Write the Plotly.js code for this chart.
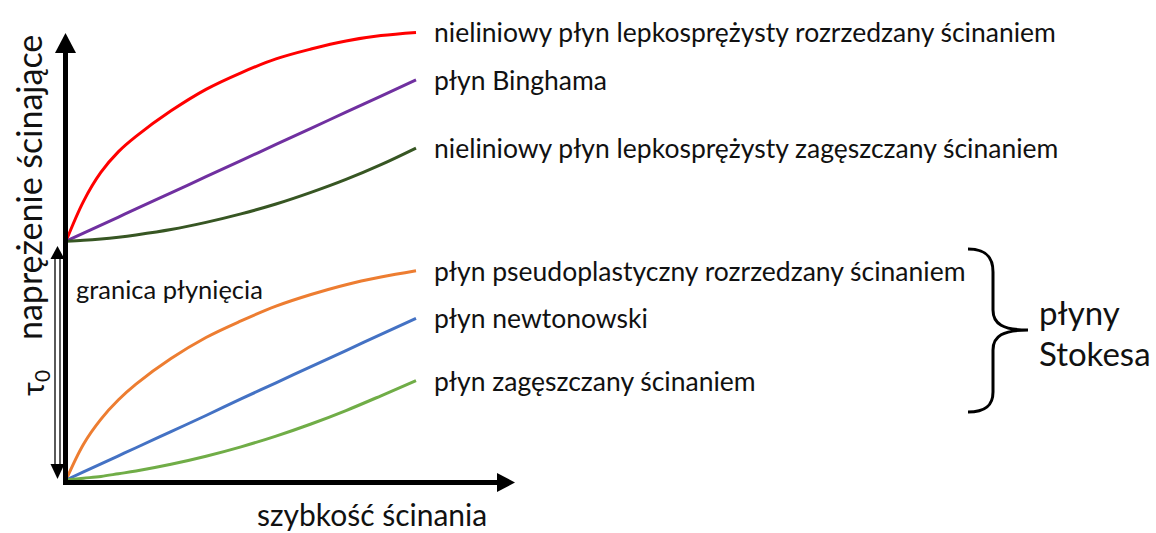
<!DOCTYPE html>
<html>
<head>
<meta charset="utf-8">
<script src="https://cdn.plot.ly/plotly-3.0.1.min.js"></script>
<style>
  body { margin: 0; background: #fff; }
  #plot { width: 1156px; height: 533px; }
</style>
</head>
<body>
<div id="plot"></div>
<script>
// shear rate (arbitrary units) and shear stress for each fluid type
const shearRate = [0, 0.5, 1, 1.5, 2, 3, 4, 5, 6, 7, 8, 9, 10];
const tau0 = 5.33;

const viscoThinning = [5.33, 6.22, 6.87, 7.33, 7.67, 8.24, 8.72, 9.09, 9.40, 9.62, 9.80, 9.92, 9.99];
const bingham = [5.33, 5.51, 5.69, 5.87, 6.05, 6.41, 6.77, 7.13, 7.49, 7.85, 8.21, 8.57, 8.93];
const viscoThickening = [5.33, 5.35, 5.38, 5.42, 5.47, 5.59, 5.75, 5.94, 6.16, 6.42, 6.71, 7.04, 7.41];
const pseudoplastic = [0, 0.8, 1.36, 1.79, 2.14, 2.71, 3.18, 3.55, 3.88, 4.14, 4.36, 4.53, 4.67];
const newtonian = [0, 0.18, 0.36, 0.54, 0.72, 1.08, 1.44, 1.81, 2.17, 2.53, 2.89, 3.25, 3.61];
const shearThickening = [0, 0.04, 0.08, 0.14, 0.2, 0.35, 0.53, 0.74, 0.98, 1.25, 1.55, 1.88, 2.22];

const seriesNames = [
  'nieliniowy płyn lepkosprężysty rozrzedzany ścinaniem',
  'płyn Binghama',
  'nieliniowy płyn lepkosprężysty zagęszczany ścinaniem',
  'płyn pseudoplastyczny rozrzedzany ścinaniem',
  'płyn newtonowski',
  'płyn zagęszczany ścinaniem'
];
const seriesValues = [viscoThinning, bingham, viscoThickening, pseudoplastic, newtonian, shearThickening];
const seriesColors = ['#ff0000', '#7030a0', '#375623', '#ed7d31', '#4472c4', '#70ad47'];

const FONT = 'Lato, "Open Sans", sans-serif';
const TXT = '#111111';

// pixel -> data helpers, only for decorations (arrows, brace, titles)
const X = px => (px - 66) / 35;
const Y = py => (480 - py) / 44.8;

const traces = seriesValues.map((vals, i) => ({
  x: shearRate,
  y: vals,
  type: 'scatter',
  mode: 'lines',
  line: { color: seriesColors[i], width: 3, shape: 'spline', smoothing: 1 },
  hoverinfo: 'skip'
}));

function tri(a, b, c) {
  return `M${X(a[0])},${Y(a[1])} L${X(b[0])},${Y(b[1])} L${X(c[0])},${Y(c[1])} Z`;
}

const braceD =
  `M${X(968)},${Y(249)} C${X(985)},${Y(249)} ${X(993)},${Y(256)} ${X(993)},${Y(272)} ` +
  `L${X(993)},${Y(310)} C${X(993)},${Y(324)} ${X(1003)},${Y(330)} ${X(1028)},${Y(330)} ` +
  `C${X(1003)},${Y(330)} ${X(993)},${Y(336)} ${X(993)},${Y(350)} ` +
  `L${X(993)},${Y(392)} C${X(993)},${Y(406)} ${X(985)},${Y(412)} ${X(968)},${Y(412)}`;

const shapes = [
  // y axis + head
  { type: 'line', x0: X(65.5), x1: X(65.5), y0: Y(485), y1: Y(50), line: { color: '#000', width: 5 } },
  { type: 'path', path: tri([65.5, 33], [55, 53], [76, 53]), fillcolor: '#000', line: { width: 0 } },
  // x axis + head
  { type: 'line', x0: X(63), x1: X(499), y0: Y(482.5), y1: Y(482.5), line: { color: '#000', width: 5 } },
  { type: 'path', path: tri([515, 482.5], [497, 473], [497, 492]), fillcolor: '#000', line: { width: 0 } },
  // tau0 double arrow
  { type: 'line', x0: X(55), x1: X(55), y0: Y(258), y1: Y(465), line: { color: '#000', width: 1.3 } },
  { type: 'line', x0: X(60), x1: X(60), y0: Y(258), y1: Y(465), line: { color: '#000', width: 1.3 } },
  { type: 'path', path: tri([57.5, 246], [50.5, 259], [64.5, 259]), fillcolor: '#000', line: { width: 0 } },
  { type: 'path', path: tri([57.5, 479], [50.5, 464], [64.5, 464]), fillcolor: '#000', line: { width: 0 } },
  // brace
  { type: 'path', path: braceD, line: { color: '#000', width: 3 } }
];

const last = shearRate.length - 1;
const annotations = seriesNames.map((name, i) => ({
  x: shearRate[last] + 0.45,
  y: seriesValues[i][last],
  text: name,
  showarrow: false,
  xanchor: 'left',
  yanchor: 'middle',
  font: { family: FONT, size: 26.5, color: TXT }
}));

annotations.push(
  { x: X(74), y: Y(289), text: 'granica płynięcia', showarrow: false, xanchor: 'left', yanchor: 'middle',
    font: { family: FONT, size: 25.5, color: TXT } },
  { x: X(28), y: Y(188), text: 'naprężenie ścinające', showarrow: false, textangle: -90,
    xanchor: 'center', yanchor: 'middle', font: { family: FONT, size: 34, color: TXT } },
  { x: X(34), y: Y(383), text: 'τ<sub>0</sub>', showarrow: false, textangle: -90,
    xanchor: 'center', yanchor: 'middle', font: { family: FONT, size: 30, color: TXT } },
  { x: X(372), y: Y(514), text: 'szybkość ścinania', showarrow: false,
    xanchor: 'center', yanchor: 'middle', font: { family: FONT, size: 30, color: TXT } },
  { x: X(1037), y: Y(312), text: 'płyny', showarrow: false, xanchor: 'left', yanchor: 'middle',
    font: { family: FONT, size: 33, color: TXT } },
  { x: X(1037), y: Y(353), text: 'Stokesa', showarrow: false, xanchor: 'left', yanchor: 'middle',
    font: { family: FONT, size: 33, color: TXT } }
);

const layout = {
  width: 1156,
  height: 533,
  margin: { l: 0, r: 0, t: 0, b: 0 },
  paper_bgcolor: '#fff',
  plot_bgcolor: '#fff',
  showlegend: false,
  xaxis: { range: [X(0), X(1156)], visible: false, fixedrange: true },
  yaxis: { range: [Y(533), Y(0)], visible: false, fixedrange: true },
  shapes: shapes,
  annotations: annotations
};

Plotly.newPlot('plot', traces, layout, { displayModeBar: false, staticPlot: true });
</script>
</body>
</html>
